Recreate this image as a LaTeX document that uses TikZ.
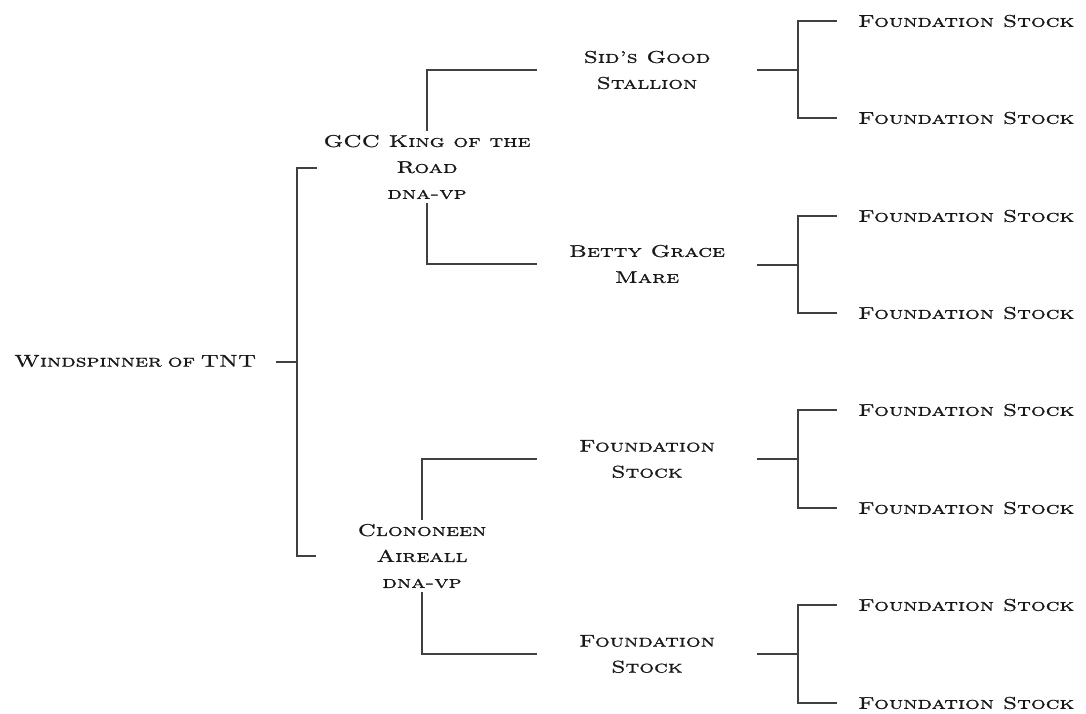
\documentclass[tikz,border=0pt]{standalone}
\usepackage{fontspec}
\setmainfont{lmroman10-regular.otf}[FakeStretch=1.37,FakeBold=1.1,
  SmallCapsFont=lmromancaps10-regular.otf,
  SmallCapsFeatures={FakeStretch=1.37,FakeBold=1.1}]
\usetikzlibrary{calc}
\begin{document}
\begin{tikzpicture}[x=1pt,y=-1pt,
  conn/.style={draw=black!75,line width=1.1pt},
  txt/.style={font=\fontsize{17}{26}\selectfont\scshape,text=black!90,align=center,inner xsep=0pt,inner ysep=4pt},
  midbox/.style={txt,minimum width=220pt},
  leaf/.style={txt,anchor=west}]
\useasboundingbox (0,0) rectangle (1086,713);
% root
\node[txt,anchor=west,text width=250pt,align=left,inner xsep=0pt] (root) at (14,361) {Windspinner of TNT};
\coordinate (j0) at (297,362);
% sire / dam
\node[txt,minimum width=220pt] (gcc) at (427,167) {GCC King of the\\Road\\dna-vp};
\node[txt,minimum width=212pt] (clo) at (422,556) {Clononeen\\Aireall\\dna-vp};
% grandparents
\node[midbox] (sid) at (647,70) {Sid's Good\\Stallion};
\node[midbox] (bet) at (647,264) {Betty Grace\\Mare};
\node[midbox] (fa) at (647,459) {Foundation\\Stock};
\node[midbox] (fb) at (647,654) {Foundation\\Stock};
% leaves
\foreach \i/\y in {1/21,2/118,3/216,4/313,5/410,6/508,7/605,8/703}
  \node[leaf] (l\i) at (858,\y) {Foundation Stock};
\coordinate (js) at (798,70);
\coordinate (jb) at (798,265);
\coordinate (ja) at (798,459);
\coordinate (jf) at (798,654);
% connectors
\draw[conn] ($(root.west)+(262,1)$) -- (j0);
\draw[conn] (j0) |- ($(gcc.west)+(0,1)$);
\draw[conn] (j0) |- (clo.west);
\draw[conn] (gcc.north) |- (sid.west);
\draw[conn] (gcc.south) |- (bet.west);
\draw[conn] (clo.north) |- (fa.west);
\draw[conn] (clo.south) |- (fb.west);
\draw[conn] (sid.east) -- (js);
\draw[conn] (bet.east |- jb) -- (jb);
\draw[conn] (fa.east) -- (ja);
\draw[conn] (fb.east) -- (jf);
\draw[conn] (js) |- ([xshift=-21pt]l1.west);
\draw[conn] (js) |- ([xshift=-21pt]l2.west);
\draw[conn] (jb) |- ([xshift=-21pt]l3.west);
\draw[conn] (jb) |- ([xshift=-21pt]l4.west);
\draw[conn] (ja) |- ([xshift=-21pt]l5.west);
\draw[conn] (ja) |- ([xshift=-21pt]l6.west);
\draw[conn] (jf) |- ([xshift=-21pt]l7.west);
\draw[conn] (jf) |- ([xshift=-21pt]l8.west);
\end{tikzpicture}
\end{document}
